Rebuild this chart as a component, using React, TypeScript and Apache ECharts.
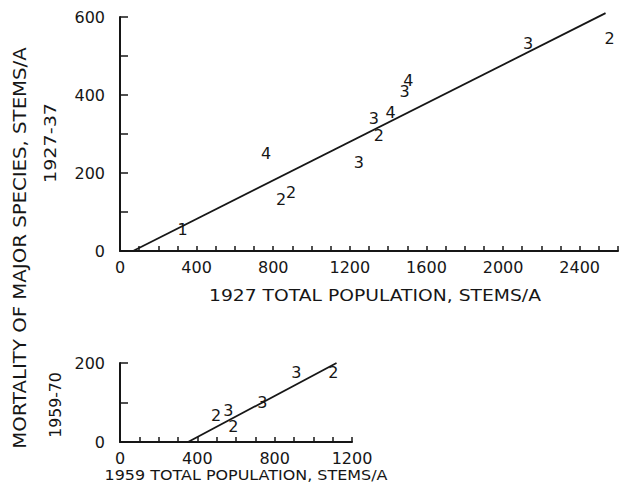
import React, { useEffect, useRef } from "react";
import * as echarts from "echarts";

// 1927 survey: mortality 1927-37 vs. 1927 total population, digit = plot code
const topCodes = ["1", "4", "2", "2", "3", "3", "2", "4", "3", "4", "3", "2"];
const topPop = [327, 763, 841, 893, 1247, 1325, 1351, 1413, 1486, 1506, 2130, 2556];
const topMort = [54, 251, 133, 149, 228, 341, 297, 354, 408, 438, 533, 546];
const topFit = [
  [68, 0],
  [2535, 610],
];

// 1959 survey: mortality 1959-70 vs. 1959 total population
const botCodes = ["2", "3", "2", "3", "3", "2"];
const botPop = [497, 560, 586, 736, 912, 1104];
const botMort = [66, 81, 38, 101, 175, 177];
const botFit = [
  [352, 0],
  [1120, 200],
];

const INK = "#161616";
const FONT = "DejaVu Sans";

function xAxisOf(gridIndex: number, max: number) {
  return {
    type: "value",
    gridIndex,
    min: 0,
    max,
    interval: 100,
    axisLine: { show: true, onZero: false, lineStyle: { color: INK, width: 2 } },
    axisTick: { show: true, inside: true, length: 5, lineStyle: { color: INK, width: 1.5 } },
    axisLabel: {
      color: INK,
      fontFamily: FONT,
      fontSize: 16,
      margin: 8,
      formatter: (v: number) => (v % 400 === 0 ? String(v) : ""),
    },
    splitLine: { show: false },
  };
}

function yAxisOf(gridIndex: number, max: number) {
  return {
    type: "value",
    gridIndex,
    min: 0,
    max,
    interval: 100,
    axisLine: { show: true, onZero: false, lineStyle: { color: INK, width: 2 } },
    axisTick: { show: true, inside: true, length: 8, lineStyle: { color: INK, width: 1.5 } },
    axisLabel: {
      color: INK,
      fontFamily: FONT,
      fontSize: 16,
      margin: 15,
      formatter: (v: number) => (v % 200 === 0 ? String(v) : ""),
    },
    splitLine: { show: false },
  };
}

function codeSeries(idx: number, xs: number[], ys: number[], codes: string[]) {
  return {
    type: "scatter",
    xAxisIndex: idx,
    yAxisIndex: idx,
    symbolSize: 1,
    itemStyle: { color: "rgba(0,0,0,0)" },
    data: xs.map((x, i) => [x, ys[i], codes[i]]),
    label: {
      show: true,
      position: "inside",
      formatter: (p: any) => p.value[2],
      color: INK,
      opacity: 1,
      textBorderWidth: 0,
      fontFamily: FONT,
      fontSize: 16,
      lineHeight: 11,
    },
  };
}

function fitSeries(idx: number, pts: number[][]) {
  return {
    type: "line",
    xAxisIndex: idx,
    yAxisIndex: idx,
    data: pts,
    showSymbol: false,
    clip: false,
    lineStyle: { color: INK, width: 1.8 },
  };
}

function label(text: string, x: number, y: number, size: number, stretch: number, vertical: boolean) {
  return {
    type: "text",
    x,
    y,
    rotation: vertical ? Math.PI / 2 : 0,
    scaleX: stretch,
    style: {
      text,
      fill: INK,
      font: `${size}px "${FONT}"`,
      textAlign: "center",
      textVerticalAlign: "middle",
    },
  };
}

export default function App() {
  const ref = useRef<HTMLDivElement>(null);

  useEffect(() => {
    if (!ref.current) return;
    const chart = echarts.init(ref.current, null, { renderer: "svg" });
    chart.setOption({
      animation: false,
      backgroundColor: "#ffffff",
      grid: [
        { left: 120, top: 17, width: 500, height: 234 },
        { left: 120, top: 363, width: 232, height: 79 },
      ],
      xAxis: [xAxisOf(0, 2600), xAxisOf(1, 1200)],
      yAxis: [yAxisOf(0, 600), yAxisOf(1, 200)],
      series: [
        fitSeries(0, topFit),
        codeSeries(0, topPop, topMort, topCodes),
        fitSeries(1, botFit),
        codeSeries(1, botPop, botMort, botCodes),
      ],
      graphic: [
        label("1927 TOTAL POPULATION, STEMS/A", 375, 295, 16, 1.17, false),
        label("1959 TOTAL POPULATION, STEMS/A", 246, 475, 14, 1.14, false),
        label("MORTALITY OF MAJOR SPECIES, STEMS/A", 20, 248, 17, 1.16, true),
        label("1927-37", 51, 143, 16, 1.2, true),
        label("1959-70", 56, 405, 15, 1.05, true),
      ],
    });
    return () => chart.dispose();
  }, []);

  return (
    <div
      ref={ref}
      style={{ position: "fixed", left: 0, top: 0, width: 621, height: 482 }}
    />
  );
}
